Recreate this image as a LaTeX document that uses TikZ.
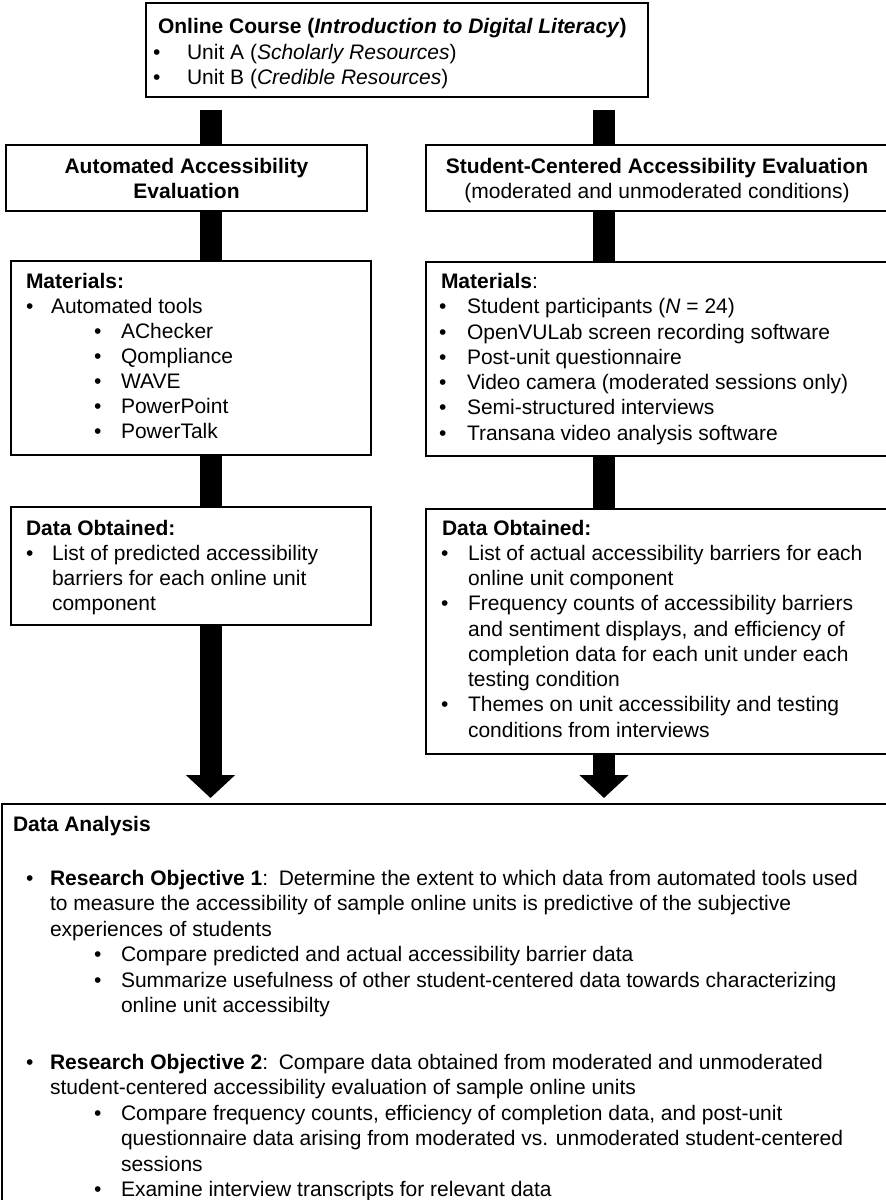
\documentclass[tikz,border=0pt]{standalone}
\usepackage{fontspec}
\setmainfont{Liberation Sans}
\usetikzlibrary{arrows.meta}
\begin{document}
\begin{tikzpicture}[x=1pt,y=-1pt,
  box/.style={draw=black,line width=1.5pt,inner sep=0pt,outer sep=0pt,rectangle},
  txt/.style={anchor=base west,inner sep=0pt,outer sep=0pt,font=\fontsize{21}{25}\selectfont},
  ctxt/.style={anchor=base,inner sep=0pt,outer sep=0pt,font=\fontsize{21}{25}\selectfont},
  bar/.style={line width=22pt,draw=black},
  bararrow/.style={bar,-{Triangle[width=48pt,length=23pt]}}]
\useasboundingbox (0,0) rectangle (886,1200);
\fill[white] (0,0) rectangle (886,1200);
\begin{scope}
\clip (0,0) rectangle (886,1200);
% boxes
\node[box,minimum width=502pt,minimum height=94pt] (top) at (397,50) {};
\node[box,minimum width=361pt,minimum height=66pt] (hdrL) at (186.5,178) {};
\node[box,minimum width=462pt,minimum height=66pt] (hdrR) at (657,178) {};
\node[box,minimum width=360pt,minimum height=194pt] (matL) at (191,358) {};
\node[box,minimum width=462pt,minimum height=194pt] (matR) at (657,359) {};
\node[box,minimum width=360pt,minimum height=118pt] (datL) at (191,566) {};
\node[box,minimum width=462pt,minimum height=245pt] (datR) at (657,631.5) {};
\node[box,minimum width=890pt,minimum height=406pt] (ana) at (447,1007) {};
\coordinate (lx) at (210.5,0);
\coordinate (rx) at (604,0);
% connectors
\draw[bar,shorten <=13pt] (top.south -| lx) -- (hdrL.north -| lx);
\draw[bar,shorten <=13pt] (top.south -| rx) -- (hdrR.north -| rx);
\draw[bar] (hdrL.south -| lx) -- (matL.north -| lx);
\draw[bar] (hdrR.south -| rx) -- (matR.north -| rx);
\draw[bar] (matL.south -| lx) -- (datL.north -| lx);
\draw[bar] (matR.south -| rx) -- (datR.north -| rx);
\draw[bararrow,shorten >=6pt] (datL.south -| lx) -- (ana.north -| lx);
\draw[bararrow,shorten >=6pt] (datR.south -| rx) -- (ana.north -| rx);
\end{scope}
% top box text
\node[txt] (t0) at (158,33) {\textbf{Online Course (\textit{Introduction to Digital Literacy})}};
\node[txt] (t1b) at (153,59) {•};
\node[txt] (t1) at (187,59) {Unit A (\textit{Scholarly Resources})};
\node[txt] (t2b) at (153,84) {•};
\node[txt] (t2) at (187,84) {Unit B (\textit{Credible Resources})};
% headers
\node[ctxt] (hl1) at (hdrL.center |- 0,173) {\textbf{Automated Accessibility}};
\node[ctxt] (hl2) at (hdrL.center |- 0,198) {\textbf{Evaluation}};
\node[ctxt] (hr1) at (hdrR.center |- 0,173) {\textbf{Student-Centered Accessibility Evaluation}};
\node[ctxt] (hr2) at (hdrR.center |- 0,198) {(moderated and unmoderated conditions)};
% materials left
\node[txt] (ml0) at (26,288) {\textbf{Materials:}};
\node[txt] (ml1b) at (26,313) {•};
\node[txt] (ml1) at (51,313) {Automated tools};
\node[txt] (ml2b) at (94,338) {•};
\node[txt] (ml2) at (121,338) {AChecker};
\node[txt] (ml3b) at (94,363) {•};
\node[txt] (ml3) at (121,363) {Qompliance};
\node[txt] (ml4b) at (94,388) {•};
\node[txt] (ml4) at (121,388) {WAVE};
\node[txt] (ml5b) at (94,413) {•};
\node[txt] (ml5) at (121,413) {PowerPoint};
\node[txt] (ml6b) at (94,438.5) {•};
\node[txt] (ml6) at (121,438.5) {PowerTalk};
% materials right
\node[txt] (mr0) at (441,288) {\textbf{Materials}:};
\node[txt] (mr1b) at (439,313) {•};
\node[txt] (mr1) at (467,313) {Student participants (\textit{N} = 24)};
\node[txt] (mr2b) at (439,339) {•};
\node[txt] (mr2) at (467,339) {OpenVULab screen recording software};
\node[txt] (mr3b) at (439,364) {•};
\node[txt] (mr3) at (467,364) {Post-unit questionnaire};
\node[txt] (mr4b) at (439,389) {•};
\node[txt] (mr4) at (467,389) {Video camera (moderated sessions only)};
\node[txt] (mr5b) at (439,414) {•};
\node[txt] (mr5) at (467,414) {Semi-structured interviews};
\node[txt] (mr6b) at (439,440) {•};
\node[txt] (mr6) at (467,440) {Transana video analysis software};
% data left
\node[txt] (dl0) at (26,535) {\textbf{Data Obtained:}};
\node[txt] (dl1b) at (26,560) {•};
\node[txt] (dl1) at (52,560) {List of predicted accessibility};
\node[txt] (dl2) at (52,585) {barriers for each online unit};
\node[txt] (dl3) at (52,610) {component};
% data right
\node[txt] (dr0) at (442,535) {\textbf{Data Obtained:}};
\node[txt] (dr1b) at (441,560) {•};
\node[txt] (dr1) at (468,560) {List of actual accessibility barriers for each};
\node[txt] (dr2) at (468,585) {online unit component};
\node[txt] (dr3b) at (441,610.5) {•};
\node[txt] (dr3) at (468,610.5) {Frequency counts of accessibility barriers};
\node[txt] (dr4) at (468,636) {and sentiment displays, and efficiency of};
\node[txt] (dr5) at (468,661) {completion data for each unit under each};
\node[txt] (dr6) at (468,686) {testing condition};
\node[txt] (dr7b) at (441,711.5) {•};
\node[txt] (dr7) at (468,711.5) {Themes on unit accessibility and testing};
\node[txt] (dr8) at (468,737) {conditions from interviews};
% analysis
\node[txt] (a0) at (13,831) {\textbf{Data Analysis}};
\node[txt] (a1b) at (26,885) {•};
\node[txt] (a1) at (50,885) {\textbf{Research Objective 1}:\hspace{0.5em}Determine the extent to which data from automated tools used};
\node[txt] (a2) at (50,910) {to measure the accessibility of sample online units is predictive of the subjective};
\node[txt] (a3) at (50,936) {experiences of students};
\node[txt] (a4b) at (94,961) {•};
\node[txt] (a4) at (121,961) {Compare predicted and actual accessibility barrier data};
\node[txt] (a5b) at (94,987) {•};
\node[txt] (a5) at (121,987) {Summarize usefulness of other student-centered data towards characterizing};
\node[txt] (a6) at (121,1012) {online unit accessibilty};
\node[txt] (a7b) at (26,1069) {•};
\node[txt] (a7) at (50,1069) {\textbf{Research Objective 2}:\hspace{0.5em}Compare data obtained from moderated and unmoderated};
\node[txt] (a8) at (50,1094) {student-centered accessibility evaluation of sample online units};
\node[txt] (a9b) at (94,1120) {•};
\node[txt] (a9) at (121,1120) {Compare frequency counts, efficiency of completion data, and post-unit};
\node[txt] (a10) at (121,1145) {questionnaire data arising from moderated vs. unmoderated student-centered};
\node[txt] (a11) at (121,1171) {sessions};
\node[txt] (a12b) at (94,1196) {•};
\node[txt] (a12) at (121,1196) {Examine interview transcripts for relevant data};
\end{tikzpicture}
\end{document}
